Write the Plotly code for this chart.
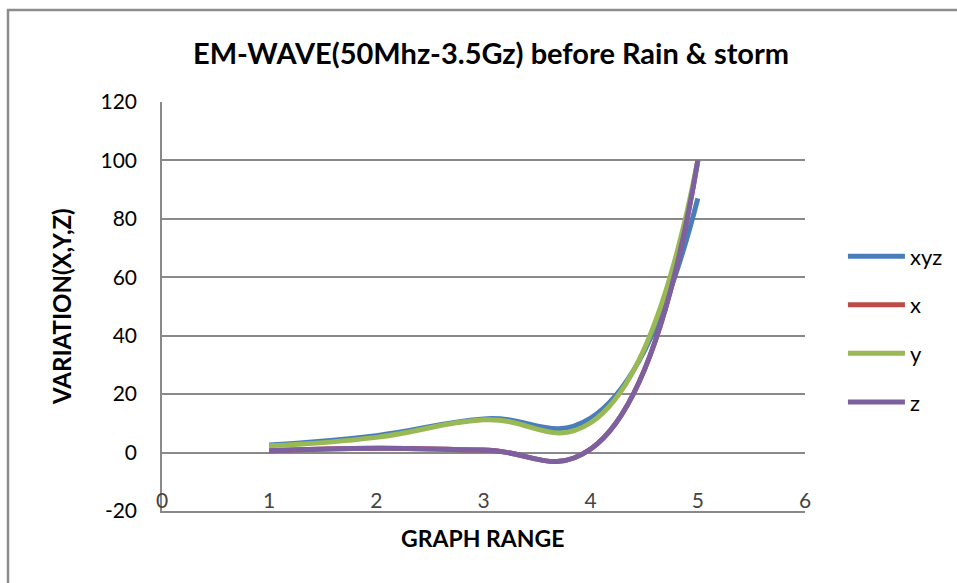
import plotly.graph_objects as go

x_vals = [1, 2, 3, 4, 5]
xyz = [2.6, 5.8, 11.5, 11.8, 87]
x_ser = [0.6, 1.5, 0.9, 1.2, 100]
y_ser = [2.3, 5.2, 11.2, 10.2, 100]
z_ser = [0.6, 1.5, 0.9, 1.2, 100]

x_ticks = [0, 1, 2, 3, 4, 5, 6]
y_ticks = [-20, 0, 20, 40, 60, 80, 100, 120]
y_tick_text = ["-20", "0", "20", "40", "60", "80", "100", "120"]

names = ["xyz", "x", "y", "z"]
series = [xyz, x_ser, y_ser, z_ser]
colors = ["#4A7EBB", "#BE4B48", "#98B954", "#7D60A0"]

FONT = "Lato"
GRID = "#898989"

fig = go.Figure()
for i, (n, s, c) in enumerate(zip(names, series, colors)):
    fig.add_trace(go.Scatter(
        x=x_vals, y=s, name=n, mode="lines",
        line=dict(color=c, width=5, shape="spline", smoothing=1.3),
        legendgroup=n,
    ))

L, R, T, B = 162, 152, 102, 72
fig.update_layout(
    width=957, height=583,
    margin=dict(l=L, r=R, t=T, b=B, pad=0, autoexpand=False),
    paper_bgcolor="white", plot_bgcolor="white",
    font=dict(family=FONT, size=21, color="black"),
    showlegend=True,
    legend=dict(x=1.059, y=0.674, xanchor="left", yanchor="top",
                font=dict(size=22, family=FONT), tracegroupgap=17,
                itemwidth=57,
                traceorder="grouped", bgcolor="rgba(0,0,0,0)"),
    xaxis=dict(range=[0, 6], tickvals=x_ticks,
               showgrid=False, zeroline=False, showline=True,
               linecolor=GRID, linewidth=1.5,
               ticklabelposition="inside", ticklabeloverflow="allow",
               ticks="", tickfont=dict(size=21, family=FONT)),
    yaxis=dict(range=[-20, 120], tickvals=y_ticks, ticktext=y_tick_text,
               showgrid=True, gridcolor=GRID, gridwidth=1.5,
               zeroline=False, showline=True, linecolor=GRID, linewidth=1.5,
               ticklabeloverflow="allow", ticklabelstandoff=19,
               ticks="", ticklen=0, tickfont=dict(size=21, family=FONT)),
    annotations=[
        dict(text="<b>EM-WAVE(50Mhz-3.5Gz) before Rain & storm</b>",
             xref="paper", yref="paper", x=0.5117, y=1.122,
             xanchor="center", yanchor="middle", showarrow=False,
             font=dict(size=29, family=FONT)),
        dict(text="<b>GRAPH RANGE</b>", xref="paper", yref="paper",
             x=0.4992, y=-0.066, xanchor="center", yanchor="middle",
             showarrow=False, font=dict(size=23, family=FONT)),
        dict(text="<b>VARIATION(X,Y,Z)</b>", xref="paper", yref="paper",
             x=-0.1555, y=0.4988, xanchor="center", yanchor="middle",
             textangle=-90, showarrow=False, font=dict(size=24, family=FONT)),
    ],
    shapes=[
        dict(type="rect", xref="paper", yref="paper",
             x0=(8 - L) / 643, x1=1.4, y0=-0.3, y1=(511 - 10) / 409,
             line=dict(color="#8C8C8C", width=2.5), layer="below"),
    ],
)

fig.write_html("out.html")
